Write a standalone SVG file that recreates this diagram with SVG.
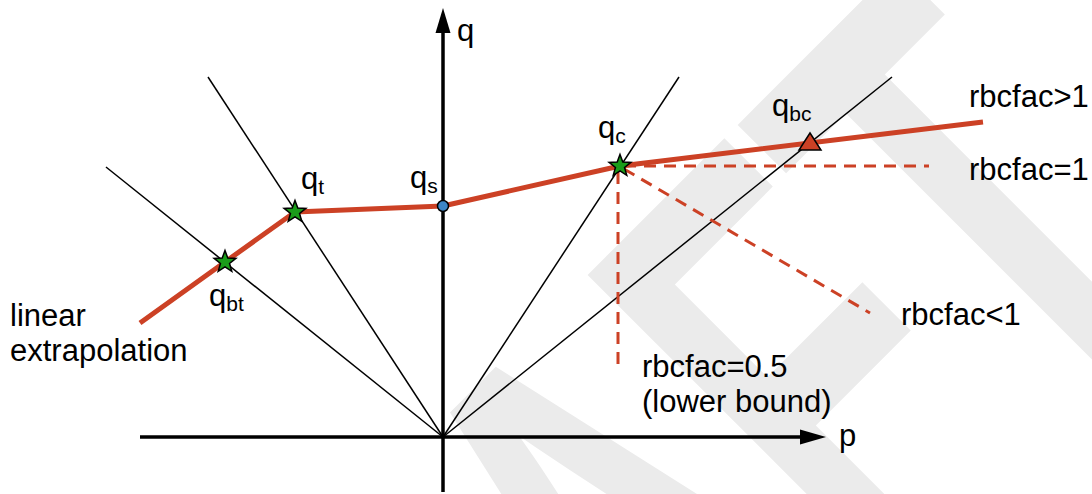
<svg xmlns="http://www.w3.org/2000/svg" width="1092" height="494" viewBox="0 0 1092 494">
<style>
.lbl{font-family:"Liberation Sans",Arial,sans-serif;font-size:31px;fill:#000}
.sub{font-size:21px}
.ray{stroke:#000;stroke-width:1.5;fill:none}
.axis{stroke:#000;stroke-width:3.5;fill:none}
.curve{stroke:#cc4125;stroke-width:5;fill:none;stroke-linejoin:round}
.dash{stroke:#cc4125;stroke-width:3;fill:none;stroke-dasharray:12 8}
.star{fill:#1a9c1a;stroke:#000;stroke-width:1.5;stroke-linejoin:miter}
.wm{font-family:"Liberation Sans",Arial,sans-serif;font-weight:bold;font-size:410px;fill:#ebebeb}
</style>
<defs>
<path id="starShape" d="M0,-11.5 L2.8,-3.9 L10.9,-3.55 L4.55,1.48 L6.76,9.3 L0,4.8 L-6.76,9.3 L-4.55,1.48 L-10.9,-3.55 L-2.8,-3.9 Z"/>
</defs>
<rect width="1092" height="494" fill="#fff"/>
<g id="watermark">
<text class="wm" transform="rotate(-45) scale(0.93,1.5)" y="688.7"><tspan x="-676.9">D</tspan><tspan x="-380.8">R</tspan><tspan x="-84.7">A</tspan><tspan x="210.3">F</tspan><tspan x="461.3">T</tspan></text>
</g>
<g id="axes">
<line class="axis" x1="443" y1="492" x2="443" y2="30"/>
<polygon points="443,8 435.5,33 450.5,33" fill="#000"/>
<line class="axis" x1="140" y1="437" x2="803" y2="437"/>
<polygon points="826,437 800,429.5 800,444.5" fill="#000"/>
<text class="lbl" x="457" y="41">q</text>
<text class="lbl" x="839" y="446">p</text>
</g>
<g id="connectors">
<line class="ray" x1="443" y1="437" x2="106" y2="167"/>
<line class="ray" x1="443" y1="437" x2="208" y2="77"/>
<line class="ray" x1="443" y1="437" x2="679" y2="77"/>
<line class="ray" x1="443" y1="437" x2="892" y2="77"/>
<polyline class="curve" points="140,323 225,262 295,212 443,206 620,166 983,122"/>
<line class="dash" x1="624" y1="166" x2="929" y2="166"/>
<line class="dash" x1="618" y1="172" x2="618" y2="370"/>
<line class="dash" x1="624" y1="169" x2="870" y2="313"/>
</g>
<g id="q_bt">
<use href="#starShape" class="star" x="225" y="262"/>
<text class="lbl" x="209" y="306">q<tspan class="sub" dy="5">bt</tspan></text>
</g>
<g id="q_t">
<use href="#starShape" class="star" x="295" y="212"/>
<text class="lbl" x="301" y="189">q<tspan class="sub" dy="5">t</tspan></text>
</g>
<g id="q_s">
<circle cx="443" cy="206" r="5.5" fill="#3d85c6" stroke="#000" stroke-width="1.5"/>
<text class="lbl" x="410" y="188">q<tspan class="sub" dy="5">s</tspan></text>
</g>
<g id="q_c">
<use href="#starShape" class="star" x="620" y="166"/>
<text class="lbl" x="598" y="138">q<tspan class="sub" dy="5">c</tspan></text>
</g>
<g id="q_bc">
<polygon points="810,133 799,150 821,150" fill="#cc4125" stroke="#000" stroke-width="1.5" stroke-linejoin="miter"/>
<text class="lbl" x="772" y="116">q<tspan class="sub" dy="5">bc</tspan></text>
</g>
<g id="labels">
<text class="lbl" x="10" y="326">linear</text>
<text class="lbl" x="10" y="361">extrapolation</text>
<text class="lbl" x="969" y="107">rbcfac&gt;1</text>
<text class="lbl" x="969" y="180">rbcfac=1</text>
<text class="lbl" x="901" y="325">rbcfac&lt;1</text>
<text class="lbl" x="642" y="377">rbcfac=0.5</text>
<text class="lbl" x="642" y="412">(lower bound)</text>
</g>
</svg>
